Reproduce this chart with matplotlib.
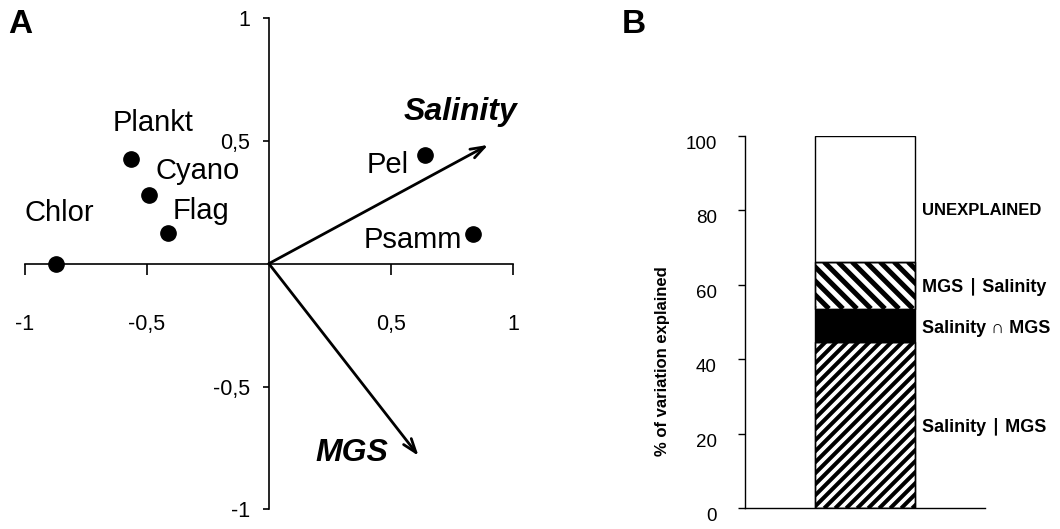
import numpy as np
import matplotlib
matplotlib.use("Agg")
import matplotlib.pyplot as plt
from matplotlib.collections import LineCollection
from matplotlib.transforms import IdentityTransform

plt.rcParams['font.family'] = ['Liberation Sans', 'DejaVu Sans']

# ---- Panel A data (ordination) ----
species = ["Plankt", "Cyano", "Flag", "Chlor", "Pel", "Psamm"]
sp_x = [-0.565, -0.489, -0.412, -0.872, 0.640, 0.837]
sp_y = [0.425, 0.278, 0.125, 0.000, 0.442, 0.121]
label_x = [-0.475, -0.292, -0.278, -0.858, 0.486, 0.588]
label_y = [0.573, 0.378, 0.216, 0.207, 0.401, 0.097]

env_names = ["Salinity", "MGS"]
env_x = [0.898, 0.613]
env_y = [0.483, -0.782]
env_label_x = [0.785, 0.341]
env_label_y = [0.616, -0.770]

a_ticks = [-1, -0.5, 0.5, 1]
a_ticklabels = ["-1", "-0,5", "0,5", "1"]

# ---- Panel B data (variation partitioning) ----
parts = ["Salinity ∣ MGS", "Salinity ∩ MGS", "MGS ∣ Salinity", "UNEXPLAINED"]
part_values = [44.8, 8.8, 12.6, 33.8]
part_label_y = [21.9, 48.3, 59.5, 80.1]
b_ticks = [0, 20, 40, 60, 80, 100]

fig = plt.figure(figsize=(10.6, 5.29), dpi=100)

# ================= Panel A =================
axA = fig.add_axes([0.0233, 0.0370, 0.4607, 0.9293])
axA.set_xlim(-1, 1)
axA.set_ylim(-1, 1)
for s in ['top', 'right']:
    axA.spines[s].set_visible(False)
axA.spines['left'].set_position(('data', 0))
axA.spines['bottom'].set_position(('data', 0))
for s in ['left', 'bottom']:
    axA.spines[s].set_linewidth(1.2)
axA.set_xticks(a_ticks)
axA.set_xticklabels(a_ticklabels)
axA.set_yticks(a_ticks)
axA.set_yticklabels(a_ticklabels)
axA.tick_params(axis='x', direction='out', length=8, width=1.2, pad=28, labelsize=15.5)
axA.tick_params(axis='y', direction='out', length=4.5, width=1.2, pad=9, labelsize=15.5)

axA.plot(sp_x, sp_y, 'o', color='black', markersize=11, clip_on=False, zorder=5)
for name, lx, ly in zip(species, label_x, label_y):
    axA.text(lx, ly, name, ha='center', va='center', fontsize=21)

for name, ex, ey, lx, ly in zip(env_names, env_x, env_y, env_label_x, env_label_y):
    axA.annotate('', xy=(ex, ey), xytext=(0, 0),
                 arrowprops=dict(arrowstyle='->,head_length=1.0,head_width=0.35',
                                 lw=2.0, color='black', shrinkA=0, shrinkB=0))
    axA.text(lx, ly, name, ha='center', va='center', fontsize=23,
             fontweight='bold', fontstyle='italic')

fig.text(0.0075, 0.953, "A", fontsize=24, fontweight='bold', ha='left', va='center')

# ================= Panel B =================
axB = fig.add_axes([0.7028, 0.0391, 0.2264, 0.7038])
axB.set_xlim(0, 1)
axB.set_ylim(0, 100)
for s in ['top', 'right']:
    axB.spines[s].set_visible(False)
for s in ['left', 'bottom']:
    axB.spines[s].set_linewidth(1.0)
axB.set_xticks([])
axB.set_yticks(b_ticks)
axB.set_yticklabels([str(t) for t in b_ticks])
axB.tick_params(axis='y', direction='out', length=5.3, width=1.0, pad=15, labelsize=13.5)
plt.setp(axB.get_yticklabels(), va='top')
axB.set_ylabel("% of variation explained", fontsize=12, fontweight='bold')
axB.yaxis.set_label_coords(-0.3125, 0.396)

bottoms = np.concatenate([[0], np.cumsum(part_values)[:-1]])
fills = ['white', 'black', 'white', 'white']
bars = axB.bar([0.5] * len(part_values), part_values, bottom=bottoms, width=0.4167,
               color=fills, edgecolor='black', linewidth=1.0, zorder=2)

for name, ly in zip(parts, part_label_y):
    fs = 12 if name == "UNEXPLAINED" else 13
    axB.text(0.736, ly, name, ha='left', va='center', fontsize=fs, fontweight='bold')

fig.text(0.587, 0.953, "B", fontsize=24, fontweight='bold', ha='left', va='center')

# custom diagonal hatching (pixel-space, 45 degrees)
fig.canvas.draw()
hatch_specs = {0: ('/', 11.0, 2.9), 2: ('\\', 14.0, 3.6)}
for idx, (direction, spacing, lw) in hatch_specs.items():
    patch = bars[idx]
    bb = patch.get_window_extent()
    x0, y0, x1, y1 = bb.x0, bb.y0, bb.x1, bb.y1
    h = y1 - y0
    segs = []
    for c in np.arange(x0 - h - spacing, x1 + spacing, spacing):
        if direction == '/':
            segs.append([(c, y0), (c + h, y1)])
        else:
            segs.append([(c, y1), (c + h, y0)])
    lc = LineCollection(segs, colors='black', linewidths=lw, transform=IdentityTransform(), zorder=3)
    axB.add_collection(lc, autolim=False)
    lc.set_clip_path(patch)
    # redraw edge on top
    axB.bar(0.5, part_values[idx], bottom=bottoms[idx], width=0.4167, fill=False,
            edgecolor='black', linewidth=1.0, zorder=4)

fig.savefig("out.png", dpi=100)
